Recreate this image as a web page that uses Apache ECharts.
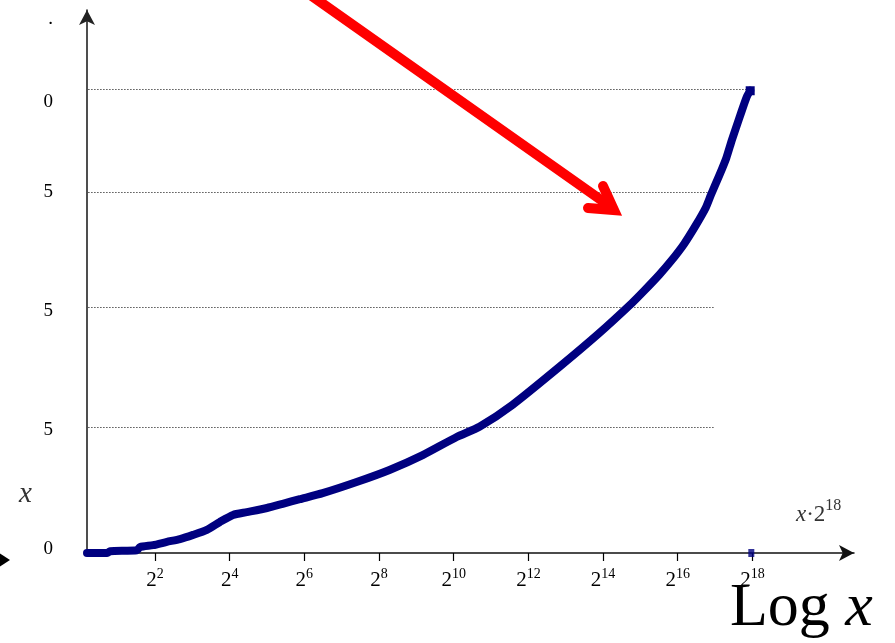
<!DOCTYPE html>
<html>
<head>
<meta charset="utf-8">
<title>Log x</title>
<script src="https://cdn.jsdelivr.net/npm/echarts@6/dist/echarts.min.js"></script>
<style>
  html, body { margin: 0; padding: 0; background: #fff; }
  #chart { width: 895px; height: 643px; }
</style>
</head>
<body>
<div id="chart"></div>
<script>
// Curve: x position in powers of two (log2 x), height in relative units
const logX = [0.18, 0.72, 0.80, 1.52, 1.60, 1.95, 2.32, 2.67, 3.02, 3.39, 3.74, 4.09, 4.46, 5.00, 5.42, 5.88,
              6.49, 7.40, 8.28, 9.17, 10.08, 10.69, 11.57, 12.83, 13.90, 14.78, 15.10, 15.50, 15.82, 16.17,
              16.49, 16.75, 16.89, 17.11, 17.30, 17.45, 17.64, 17.78, 17.86, 17.94];
const yVal = [0.000, 0.000, 0.004, 0.006, 0.013, 0.017, 0.024, 0.030, 0.039, 0.050, 0.067, 0.082, 0.088, 0.097, 0.106, 0.116,
              0.129, 0.153, 0.179, 0.211, 0.250, 0.272, 0.319, 0.401, 0.474, 0.539, 0.565, 0.599, 0.629, 0.666,
              0.707, 0.744, 0.772, 0.813, 0.851, 0.890, 0.935, 0.968, 0.985, 0.996];

// Marker on the x axis at 2^18
const baseMarker = [[17.97, 0]];

// Dotted reference lines: height and where each one stops (log2 x)
const gridY = [0.272, 0.530, 0.778, 1.000];
const gridEnd = [16.97, 16.97, 16.84, 17.86];

// Vertical axis labels
const yLabelValues = [0.008, 0.265, 0.522, 0.778, 0.972, 1.150];
const yLabelTexts = ['0', '5', '5', '5', '0', '.'];

// Horizontal axis tick labels (exponents of 2)
const xTickPowers = [2, 4, 6, 8, 10, 12, 14, 16, 18];

const X_MIN = 0.18, X_MAX = 20.72, Y_MAX = 1.17;
const SERIF = '"Liberation Serif", "Times New Roman", serif';

const curveData = logX.map((x, i) => {
  const item = { value: [x, yVal[i]] };
  if (i === logX.length - 1) { item.symbol = 'rect'; item.symbolSize = 9; }
  return item;
});

const chart = echarts.init(document.getElementById('chart'), null, { renderer: 'canvas' });

chart.setOption({
  animation: false,
  backgroundColor: '#ffffff',
  grid: { left: 87, right: 41, top: 10, bottom: 90, containLabel: false },
  xAxis: {
    type: 'value',
    min: X_MIN,
    max: X_MAX,
    axisLine: {
      show: true,
      onZero: false,
      symbol: ['none', 'arrow'],
      symbolSize: [12, 15],
      lineStyle: { color: '#111', width: 1.5 }
    },
    axisTick: {
      show: true,
      customValues: xTickPowers,
      length: 8,
      lineStyle: { color: '#000', width: 1.2 }
    },
    axisLabel: {
      show: true,
      customValues: xTickPowers,
      margin: 14,
      formatter: v => '{b|2}{s|' + v + '}',
      rich: {
        b: { fontFamily: SERIF, fontSize: 21, color: '#000', lineHeight: 24, verticalAlign: 'bottom' },
        s: { fontFamily: SERIF, fontSize: 14, color: '#000', lineHeight: 24, verticalAlign: 'top', padding: [0, 0, 9, 0] }
      }
    },
    splitLine: { show: false }
  },
  yAxis: {
    type: 'value',
    min: 0,
    max: Y_MAX,
    axisLine: {
      show: true,
      symbol: ['none', 'arrow'],
      symbolSize: [12, 15],
      lineStyle: { color: '#222', width: 1.6 }
    },
    axisTick: { show: false },
    axisLabel: {
      show: true,
      customValues: yLabelValues,
      margin: 34,
      fontFamily: SERIF,
      fontSize: 19,
      color: '#000',
      formatter: (v, i) => {
        const k = yLabelValues.indexOf(v);
        return k >= 0 ? yLabelTexts[k] : (yLabelTexts[i] || '');
      }
    },
    splitLine: { show: false }
  },
  series: [
    {
      type: 'line',
      data: curveData,
      symbol: 'none',
      showSymbol: true,
      smooth: 0.2,
      lineStyle: { color: '#000080', width: 8, cap: 'round', join: 'round' },
      itemStyle: { color: '#000080' },
      z: 5,
      markLine: {
        silent: true,
        symbol: 'none',
        animation: false,
        label: { show: false },
        lineStyle: { color: '#555', width: 1, type: [1.5, 1.5] },
        data: gridY.map((y, i) => [{ coord: [X_MIN + 0.03, y] }, { coord: [gridEnd[i], y] }])
      }
    },
    {
      type: 'scatter',
      data: baseMarker,
      symbol: 'rect',
      symbolSize: [6, 8],
      itemStyle: { color: '#000080' },
      z: 6
    }
  ],
  graphic: [
    // axis names
    {
      type: 'text', left: 19, top: 480,
      style: { text: 'x', font: 'italic 29px ' + SERIF, fill: '#333' }
    },
    {
      type: 'text', left: 796, top: 498,
      style: {
        text: '{i|x}{m|·2}{s|18}',
        rich: {
          i: { font: 'italic 23px ' + SERIF, fill: '#333', lineHeight: 28, verticalAlign: 'bottom' },
          m: { font: '23px ' + SERIF, fill: '#333', lineHeight: 28, verticalAlign: 'bottom' },
          s: { font: '16px ' + SERIF, fill: '#333', lineHeight: 28, verticalAlign: 'top', padding: [0, 0, 10, 0] }
        }
      }
    },
    {
      type: 'text', left: 730, top: 578,
      style: {
        text: '{n|Log }{i|x}',
        rich: {
          n: { font: '62px ' + SERIF, fill: '#000' },
          i: { font: 'italic 62px ' + SERIF, fill: '#000' }
        }
      }
    },
    // pointer arrow
    {
      type: 'polyline', z: 20,
      shape: { points: [[309, -6], [611, 207]] },
      style: { stroke: '#ff0000', lineWidth: 10, lineCap: 'round', fill: null }
    },
    {
      type: 'polyline', z: 20,
      shape: { points: [[603, 186], [614, 210], [588, 208]] },
      style: { stroke: '#ff0000', lineWidth: 10, lineCap: 'round', lineJoin: 'miter', miterLimit: 10, fill: null }
    },
    // clipped arrowhead at the left edge
    {
      type: 'polygon', z: 20,
      shape: { points: [[-4, 551], [10, 560], [-4, 569]] },
      style: { fill: '#000' }
    }
  ]
});
</script>
</body>
</html>
